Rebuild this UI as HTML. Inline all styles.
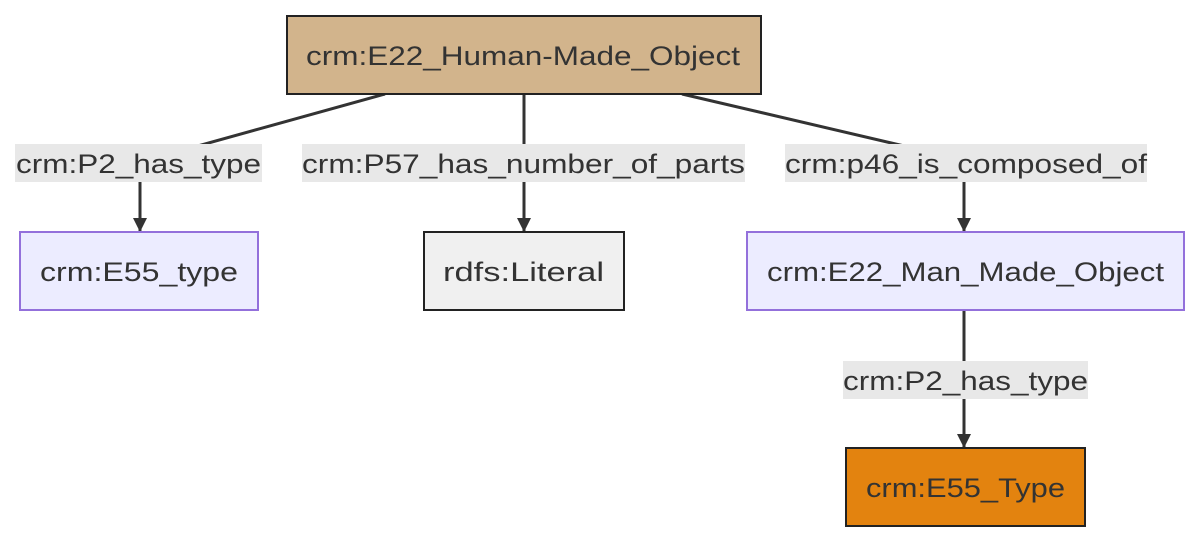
<!DOCTYPE html>
<html><head><meta charset="utf-8"><style>
html,body{margin:0;padding:0;background:#fff;}
svg text{font-family:"Liberation Sans","DejaVu Sans",sans-serif;font-size:27px;fill:#333;}
</style></head><body>
<svg width="1202" height="542" viewBox="0 0 1202 542" xmlns="http://www.w3.org/2000/svg">
<defs><marker id="a" markerWidth="14" markerHeight="14" refX="13" refY="7" orient="auto" markerUnits="userSpaceOnUse"><path d="M0,0 L14,7 L0,14 z" fill="#333"/></marker></defs>
<g stroke="#333" stroke-width="3" fill="none">
<path d="M385,94 L140,162 L140,231" marker-end="url(#a)"/>
<path d="M524,94 L524,231" marker-end="url(#a)"/>
<path d="M682,94 L964,160 L964,231" marker-end="url(#a)"/>
<path d="M964,310 L964,447" marker-end="url(#a)"/>
</g>
<rect x="15" y="144" width="247" height="38" fill="#e8e8e8"/>
<text x="16" y="173" textLength="245" lengthAdjust="spacingAndGlyphs">crm:P2_has_type</text>
<rect x="302" y="144" width="443" height="38" fill="#e8e8e8"/>
<text x="302" y="173" textLength="443" lengthAdjust="spacingAndGlyphs">crm:P57_has_number_of_parts</text>
<rect x="785" y="144" width="362" height="38" fill="#e8e8e8"/>
<text x="785" y="173" textLength="362" lengthAdjust="spacingAndGlyphs">crm:p46_is_composed_of</text>
<rect x="843" y="361" width="245" height="38" fill="#e8e8e8"/>
<text x="843" y="390" textLength="245" lengthAdjust="spacingAndGlyphs">crm:P2_has_type</text>
<rect x="287" y="16" width="474" height="78" fill="#d2b48c" stroke="#222" stroke-width="2"/>
<text x="306" y="65" textLength="434" lengthAdjust="spacingAndGlyphs">crm:E22_Human-Made_Object</text>
<rect x="20" y="232" width="238" height="78" fill="#ececff" stroke="#9370db" stroke-width="2"/>
<text x="40" y="281" textLength="198" lengthAdjust="spacingAndGlyphs">crm:E55_type</text>
<rect x="424" y="232" width="200" height="78" fill="#f0f0f0" stroke="#222" stroke-width="2"/>
<text x="443" y="281" textLength="161" lengthAdjust="spacingAndGlyphs">rdfs:Literal</text>
<rect x="747" y="232" width="437" height="78" fill="#ececff" stroke="#9370db" stroke-width="2"/>
<text x="767" y="281" textLength="397" lengthAdjust="spacingAndGlyphs">crm:E22_Man_Made_Object</text>
<rect x="846" y="448" width="239" height="78" fill="#e3830f" stroke="#222" stroke-width="2"/>
<text x="866" y="497" textLength="199" lengthAdjust="spacingAndGlyphs">crm:E55_Type</text>
</svg>
</body></html>
